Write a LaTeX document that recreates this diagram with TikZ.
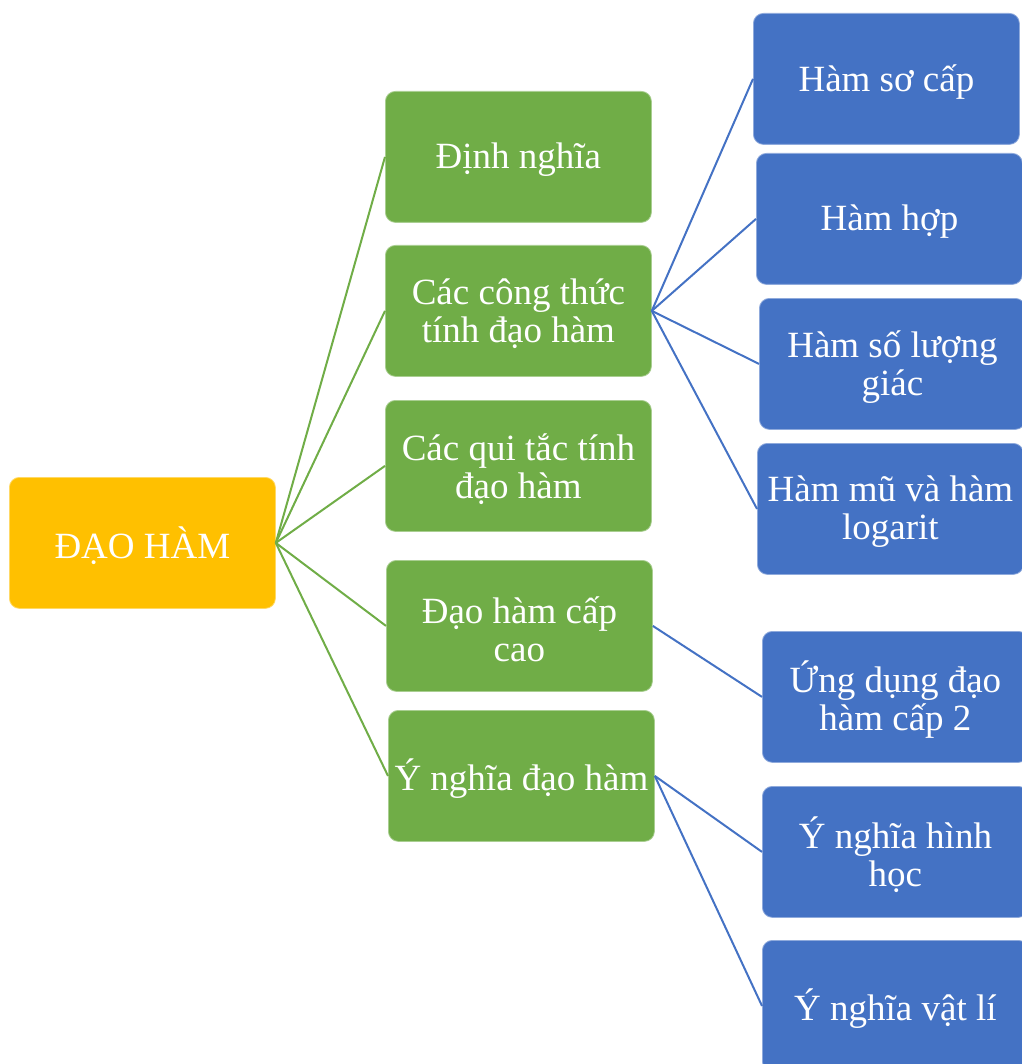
\documentclass[tikz,border=0pt]{standalone}
\usepackage{fontspec}
\setmainfont{Liberation Serif}
\definecolor{cyellow}{HTML}{FFC000}
\definecolor{cgreen}{HTML}{70AD47}
\definecolor{cblue}{HTML}{4472C4}
\begin{document}
\begin{tikzpicture}[x=1pt,y=-1pt,
  box/.style={rounded corners=10pt, minimum width=266pt, minimum height=131pt,
    inner sep=0pt, anchor=north west, draw=white!40!#1, line width=0.8pt, fill=#1},
  lbl/.style={align=center, text=white, inner sep=0pt,
    font=\fontsize{37}{38}\selectfont},
  gline/.style={draw=cgreen, line width=2pt},
  bline/.style={draw=cblue, line width=2pt}]
\useasboundingbox (0,0) rectangle (1021,1064);
\node[box=cyellow] (root) at (9,477) {};
\node[box=cgreen] (g1) at (385,91) {};
\node[box=cgreen] (g2) at (385,245) {};
\node[box=cgreen] (g3) at (385,400) {};
\node[box=cgreen] (g4) at (386,560) {};
\node[box=cgreen] (g5) at (388,710) {};
\node[box=cblue] (b1) at (753,13) {};
\node[box=cblue] (b2) at (756,153) {};
\node[box=cblue] (b3) at (759,298) {};
\node[box=cblue] (b4) at (757,443) {};
\node[box=cblue] (b5) at (762,631) {};
\node[box=cblue] (b6) at (762,786) {};
\node[box=cblue] (b7) at (762,940) {};
\node[lbl] (troot) at ([yshift=-3pt]root.center) {ĐẠO HÀM};
\node[lbl] (tg1) at ([yshift=-3pt]g1.center) {Định nghĩa};
\node[lbl] (tg2) at ([yshift=-3pt]g2.center) {Các công thức\\tính đạo hàm};
\node[lbl] (tg3) at ([yshift=-3pt]g3.center) {Các qui tắc tính\\đạo hàm};
\node[lbl] (tg4) at ([yshift=-3pt]g4.center) {Đạo hàm cấp\\cao};
\node[lbl] (tg5) at ([yshift=-3pt]g5.center) {Ý nghĩa đạo hàm};
\node[lbl] (tb1) at ([yshift=-3pt]b1.center) {Hàm sơ cấp};
\node[lbl] (tb2) at ([yshift=-3pt]b2.center) {Hàm hợp};
\node[lbl] (tb3) at ([yshift=-3pt]b3.center) {Hàm số lượng\\giác};
\node[lbl] (tb4) at ([yshift=-3pt]b4.center) {Hàm mũ và hàm\\logarit};
\node[lbl] (tb5) at ([yshift=-3pt]b5.center) {Ứng dụng đạo\\hàm cấp 2};
\node[lbl] (tb6) at ([yshift=-3pt]b6.center) {Ý nghĩa hình\\học};
\node[lbl] (tb7) at ([yshift=-3pt]b7.center) {Ý nghĩa vật lí};
\foreach \g in {g1,g2,g3,g4,g5} \draw[gline] (root.east) -- (\g.west);
\foreach \b in {b1,b2,b3,b4} \draw[bline] (g2.east) -- (\b.west);
\draw[bline] (g4.east) -- (b5.west);
\draw[bline] (g5.east) -- (b6.west);
\draw[bline] (g5.east) -- (b7.west);
\end{tikzpicture}
\end{document}
